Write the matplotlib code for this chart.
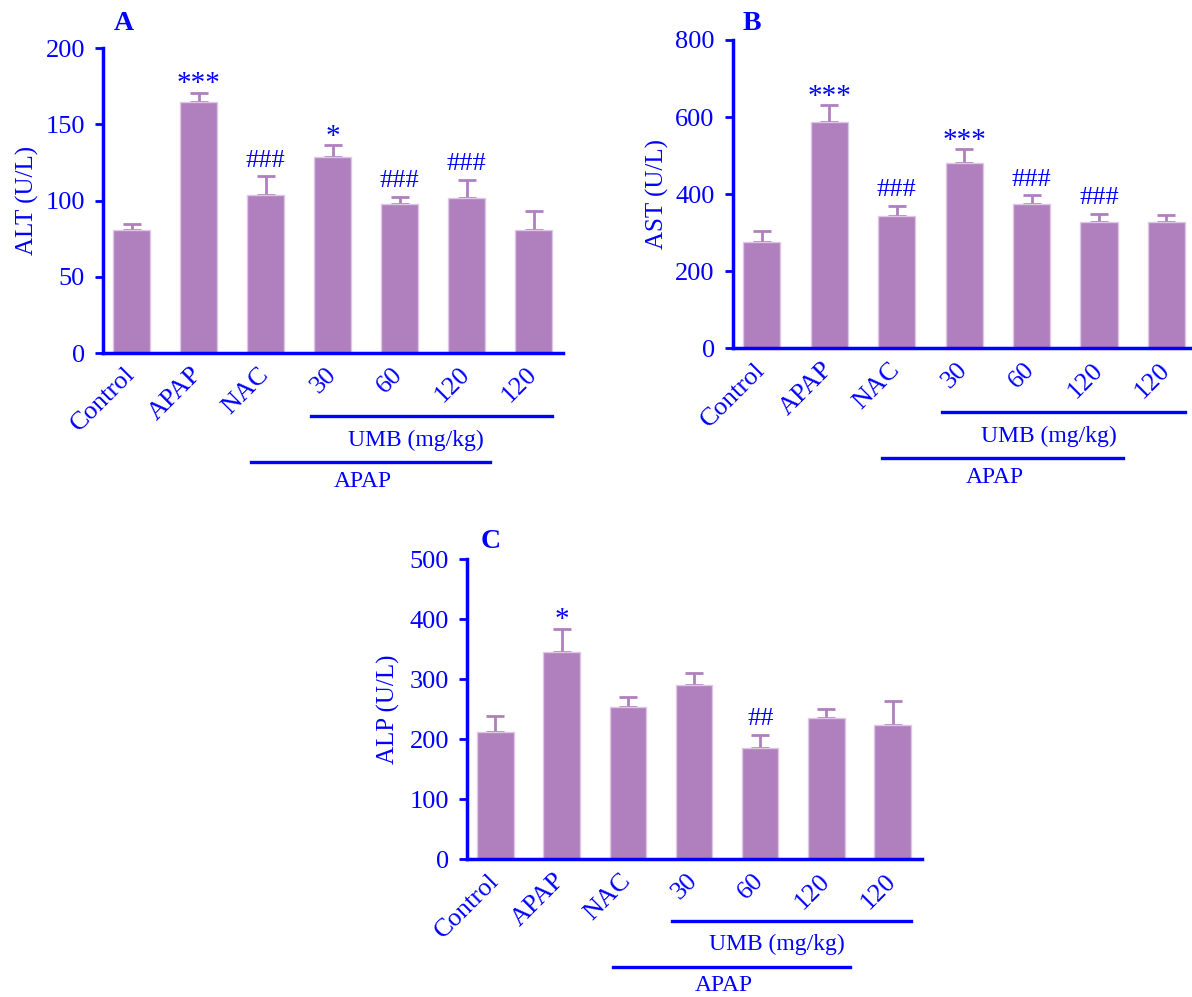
import numpy as np
import matplotlib
matplotlib.use('Agg')
import matplotlib.pyplot as plt

# Group names on the x axis
groups = ['Control', 'APAP', 'NAC', '30', '60', '120', '120']

# Panel A - ALT
alt_mean = [80.7, 164.7, 103.4, 128.5, 97.9, 101.9, 80.7]
alt_sd = [3.7, 6.1, 12.4, 7.6, 4.4, 11.9, 12.4]
alt_marks = ['', '***', '###', '*', '###', '###', '']

# Panel B - AST
ast_mean = [275.6, 586.7, 342.3, 481.8, 373.5, 326.7, 326.7]
ast_sd = [27.4, 43.3, 27.7, 34.7, 23.5, 22.3, 18.3]
ast_marks = ['', '***', '###', '***', '###', '###', '']

# Panel C - ALP
alp_mean = [211.7, 346.0, 252.8, 290.6, 186.0, 236.0, 224.0]
alp_sd = [26.6, 38.0, 17.8, 20.0, 20.7, 14.0, 39.0]
alp_marks = ['', '*', '', '', '##', '', '']

BLUE = '#0000ff'
BAR = '#b07fbe'
FONT = 'Liberation Serif'
FS = 17
TICK_FS = 19

plt.rcParams['font.family'] = FONT


def plot_panel(ax, means, sds, marks, ylabel, ymax, ystep, label_x):
    """
    Draw one bar panel with upper error bars, significance marks
    and the UMB / APAP group lines under the x axis.
    """
    x = np.arange(len(groups))

    # bars and one-sided error bars
    ax.bar(x, means, width=0.55, color=BAR, edgecolor='#dcc8e4',
           linewidth=1, zorder=2)
    ax.errorbar(x, means, yerr=[np.zeros(len(sds)), sds], fmt='none',
                ecolor=BAR, elinewidth=2, capsize=6.5, capthick=2,
                zorder=1)

    # significance marks above the error bars
    for i, m in enumerate(marks):
        if not m:
            continue
        if m.startswith('*'):
            off, fs = 1, 21
        else:
            off, fs = 7, 19
        ax.annotate(m, xy=(i, means[i] + sds[i]), xytext=(0, off),
                    textcoords='offset points', ha='center',
                    va='baseline', color=BLUE, fontsize=fs)

    # axes look
    ax.set_xlim(-0.43, 6.44)
    ax.set_ylim(0, ymax)
    ax.set_yticks(np.arange(0, ymax + 1, ystep))
    ax.set_xticks(x)
    ax.set_xticklabels(groups, rotation=45, ha='right', va='center',
                       rotation_mode='anchor')
    for s in ['top', 'right']:
        ax.spines[s].set_visible(False)
    for s in ['left', 'bottom']:
        ax.spines[s].set_color(BLUE)
        ax.spines[s].set_linewidth(2.5)
    ax.tick_params(axis='y', colors=BLUE, length=6, width=2, pad=7,
                   labelsize=TICK_FS)
    ax.tick_params(axis='x', colors=BLUE, length=0, pad=13,
                   labelsize=TICK_FS)
    ax.set_ylabel(ylabel, color=BLUE, fontsize=FS + 1)
    ax.yaxis.set_label_coords(label_x, 0.5)

    # group lines below the axis
    tr = ax.get_xaxis_transform()
    ax.plot([2.67, 6.27], [-0.207, -0.207], color=BLUE, lw=2.4,
            transform=tr, clip_on=False)
    ax.text(4.25, -0.285, 'UMB (mg/kg)', color=BLUE, fontsize=FS,
            ha='center', va='center', transform=tr)
    ax.plot([1.78, 5.35], [-0.357, -0.357], color=BLUE, lw=2.4,
            transform=tr, clip_on=False)
    ax.text(3.45, -0.42, 'APAP', color=BLUE, fontsize=FS,
            ha='center', va='center', transform=tr)


fig = plt.figure(figsize=(11.92, 9.97), dpi=100)

ax_a = fig.add_axes([0.0864, 0.6459, 0.3859, 0.3059])
ax_b = fig.add_axes([0.6147, 0.6507, 0.3888, 0.3092])
ax_c = fig.add_axes([0.3918, 0.1381, 0.3815, 0.3012])

plot_panel(ax_a, alt_mean, alt_sd, alt_marks, 'ALT (U/L)', 200, 50,
           -64 / 460)
plot_panel(ax_b, ast_mean, ast_sd, ast_marks, 'AST (U/L)', 800, 200,
           -64 / 463.5)
plot_panel(ax_c, alp_mean, alp_sd, alp_marks, 'ALP (U/L)', 500, 100,
           -67 / 454.7)

# panel letters
fig.text(114 / 1192, 1 - 24 / 997, 'A', color=BLUE, fontsize=20,
         fontweight='bold', va='center', ha='left')
fig.text(743 / 1192, 1 - 24 / 997, 'B', color=BLUE, fontsize=20,
         fontweight='bold', va='center', ha='left')
fig.text(481 / 1192, 1 - 542 / 997, 'C', color=BLUE, fontsize=20,
         fontweight='bold', va='center', ha='left')

plt.savefig('out.png', dpi=100, facecolor='white')
